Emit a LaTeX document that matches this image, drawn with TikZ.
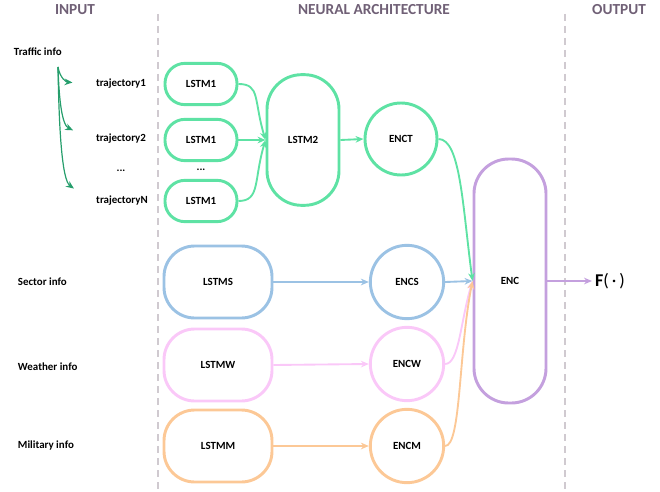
\documentclass[tikz,border=0pt]{standalone}
\usepackage{fontspec}
\setmainfont{Carlito}[BoldFont={Carlito Bold}]
\usetikzlibrary{arrows.meta}

\definecolor{mint}{RGB}{94,226,164}
\definecolor{darkmint}{RGB}{38,158,108}
\definecolor{skyblue}{RGB}{155,194,228}
\definecolor{lightpink}{RGB}{250,200,248}
\definecolor{peach}{RGB}{252,200,150}
\definecolor{lilac}{RGB}{196,160,222}
\definecolor{headgray}{RGB}{112,96,118}
\definecolor{sepgray}{RGB}{208,202,208}

\tikzset{every picture/.style={line width=0.75pt}}
\tikzset{
  header/.style={font=\fontsize{11.5}{13}\selectfont\bfseries, text=headgray},
  lbl/.style={font=\fontsize{8.2}{9.5}\selectfont\bfseries},
  pill/.style={draw, line width=2.2pt, inner sep=0pt, lbl},
  encircle/.style={draw, circle, line width=2.2pt, inner sep=0pt, minimum size=55pt, lbl},
  sep/.style={draw=sepgray, line width=1.5pt, dash pattern=on 5pt off 4pt},
  link/.style={line width=1.4pt, -{Stealth[length=6pt,width=5pt]}},
}

\begin{document}
\begin{tikzpicture}[x=0.75pt,y=0.75pt,yscale=-1,xscale=1]

\useasboundingbox (0,0) rectangle (660,492);

% column titles and separators
\node [header] (hinput) at (75,10) {INPUT};
\node [header] (hneural) at (374,10) {NEURAL ARCHITECTURE};
\node [header] (houtput) at (619,10) {OUTPUT};
\draw [sep] (158,14) -- (158,492);
\draw [sep] (565,14) -- (565,492);

% inputs
\node [lbl, anchor=west] (traffic) at (9,52) {Traffic info};
\node [lbl] (traj1) at (121,84) {trajectory1};
\node [lbl] (traj2) at (121,139) {trajectory2};
\node [lbl] (trajdots) at (121,171) {...};
\node [lbl] (trajN) at (122,201) {trajectoryN};
\node [lbl, anchor=west] (sector) at (13,282) {Sector info};
\node [lbl, anchor=west] (weather) at (13,367) {Weather info};
\node [lbl, anchor=west] (military) at (13,446) {Military info};
\coordinate (tsrc) at (58,67);

% traffic branch
\node [pill, draw=mint, minimum width=54pt, minimum height=31pt, rounded corners=15pt] (lstm1a) at (201,84) {LSTM1};
\node [pill, draw=mint, minimum width=54pt, minimum height=31pt, rounded corners=15pt] (lstm1b) at (201,140) {LSTM1};
\node [lbl] (lstmdots) at (201,170) {...};
\node [pill, draw=mint, minimum width=54pt, minimum height=31pt, rounded corners=15pt] (lstm1c) at (201,201) {LSTM1};
\node [pill, draw=mint, minimum width=54pt, minimum height=98pt, rounded corners=26pt] (lstm2) at (303,140) {LSTM2};
\node [encircle, draw=mint, minimum size=54pt] (enct) at (401,139) {ENCT};

% sector, weather, military branches
\node [pill, draw=skyblue, minimum width=81pt, minimum height=54pt, rounded corners=23pt] (lstms) at (218,282) {LSTMS};
\node [pill, draw=lightpink, minimum width=81pt, minimum height=54pt, rounded corners=23pt] (lstmw) at (218,365) {LSTMW};
\node [pill, draw=peach, minimum width=81pt, minimum height=54pt, rounded corners=23pt] (lstmm) at (218,446) {LSTMM};
\node [encircle, draw=skyblue] (encs) at (407,282) {ENCS};
\node [encircle, draw=lightpink] (encw) at (407,364) {ENCW};
\node [encircle, draw=peach] (encm) at (407,446) {ENCM};

% encoder and output
\node [pill, draw=lilac, minimum width=54pt, minimum height=183pt, rounded corners=26pt] (enc) at (510,281) {ENC};
\node [font=\fontsize{13.5}{15}\selectfont, inner sep=2pt, anchor=west] (fout) at (592,281) {\textbf{F}(\,·\,)};

% connectors
\draw [link, darkmint, line width=0.9pt, shorten >=14pt] (tsrc) .. controls (60,78) and (66,82) .. (traj1.west);
\draw [link, darkmint, line width=0.9pt, shorten >=15pt] (tsrc) .. controls (59,100) and (62,125) .. (traj2.west);
\draw [link, darkmint, line width=0.9pt, shorten >=16pt] (tsrc) .. controls (59,130) and (62,180) .. (trajN.west);

\draw [link, mint] (lstm1a.east) .. controls +(22,0) and +(-12,-40) .. (lstm2.west);
\draw [link, mint] (lstm1b.east) -- (lstm2.west);
\draw [link, mint] (lstm1c.east) .. controls +(22,0) and +(-12,40) .. (lstm2.west);
\draw [link, mint] (lstm2.east) -- (enct.west);
\draw [link, mint] (enct.east) .. controls +(22,0) and +(-10,-75) .. (enc.west);

\draw [link, skyblue] (lstms.east) -- (encs.west);
\draw [link, lightpink] (lstmw.east) -- (encw.west);
\draw [link, peach] (lstmm.east) -- (encm.west);
\draw [link, skyblue] (encs.east) -- (enc.west);
\draw [link, lightpink] (encw.east) .. controls +(14,0) and +(-12,40) .. (enc.west);
\draw [link, peach] (encm.east) .. controls +(16,0) and +(-14,70) .. (enc.west);
\draw [link, lilac] (enc.east) -- (fout.west);

\end{tikzpicture}
\end{document}
